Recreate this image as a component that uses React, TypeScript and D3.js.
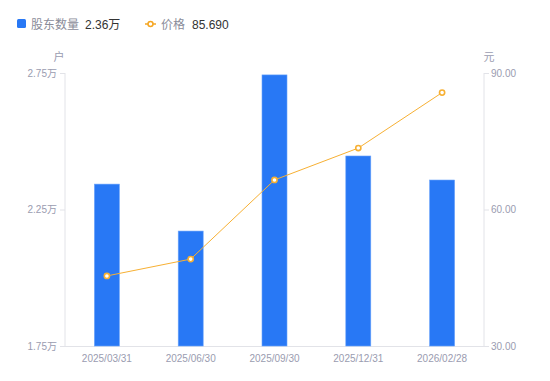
import React from "react";
import * as d3 from "d3";

const categories = ["2025/03/31", "2025/06/30", "2025/09/30", "2025/12/31", "2026/02/28"];
const holders = [2.343, 2.171, 2.743, 2.446, 2.358];
const prices = [45.4, 49.1, 66.5, 73.5, 85.69];
const leftTicks = [1.75, 2.25, 2.75];
const rightTicks = [30, 60, 90];

export default function App() {
  const W = 550, H = 381;
  const left = 65, right = 484, top = 73, bottom = 346;
  const x = d3.scaleBand().domain(categories).range([left, right]);
  const yL = d3.scaleLinear().domain([1.75, 2.75]).range([bottom, top]);
  const yR = d3.scaleLinear().domain([30, 90]).range([bottom, top]);
  const barW = 25;
  const line = d3.line<number>().x((_, i) => x(categories[i])! + x.bandwidth() / 2).y((d) => yR(d));
  const tickColor = "#9a9cb0";
  const axisColor = "#e2e3e8";
  const font = "'Liberation Sans', 'Noto Sans CJK SC', sans-serif";
  return (
    <svg width={W} height={H} style={{ position: "absolute", left: 0, top: 0, fontFamily: font }}>
      {/* legend */}
      <rect x={17} y={19} width={9} height={9} rx={1.5} fill="#2878f5" />
      <text x={31} y={28.5} fontSize={12} fill="#8a8c99">股东数量</text>
      <text x={85} y={28.5} fontSize={12} fill="#333">2.36万</text>
      <line x1={145} x2={156} y1={24} y2={24} stroke="#f5a623" strokeWidth={1.5} />
      <circle cx={150.5} cy={24} r={2.5} fill="#fff" stroke="#f5a623" strokeWidth={1.5} />
      <text x={161} y={28.5} fontSize={12} fill="#8a8c99">价格</text>
      <text x={192} y={28.5} fontSize={12} fill="#333">85.690</text>
      {/* units */}
      <text x={59} y={61} fontSize={11} fill={tickColor} textAnchor="middle">户</text>
      <text x={489} y={61} fontSize={11} fill={tickColor} textAnchor="middle">元</text>
      {/* axes */}
      <line x1={left} x2={left} y1={top} y2={bottom} stroke={axisColor} />
      <line x1={right} x2={right} y1={top} y2={bottom} stroke={axisColor} />
      <line x1={left} x2={right} y1={bottom + 0.5} y2={bottom + 0.5} stroke={axisColor} />
      {leftTicks.map((t) => (
        <g key={t}>
          <line x1={left - 5} x2={left} y1={yL(t) + 0.5} y2={yL(t) + 0.5} stroke={axisColor} />
          <text x={57} y={yL(t) + 3.5} fontSize={10} fill={tickColor} textAnchor="end">{t.toFixed(2)}万</text>
        </g>
      ))}
      {rightTicks.map((t) => (
        <g key={t}>
          <line x1={right} x2={right + 5} y1={yR(t) + 0.5} y2={yR(t) + 0.5} stroke={axisColor} />
          <text x={491} y={yR(t) + 3.5} fontSize={10} fill={tickColor}>{t.toFixed(2)}</text>
        </g>
      ))}
      {categories.map((c) => (
        <text key={c} x={x(c)! + x.bandwidth() / 2} y={362} fontSize={10} fill={tickColor} textAnchor="middle">{c}</text>
      ))}
      {/* bars */}
      {holders.map((v, i) => (
        <rect key={i} x={x(categories[i])! + x.bandwidth() / 2 - barW / 2} y={yL(v)} width={barW} height={bottom - yL(v)}
          fill="#2878f5" stroke="#6aa3fb" strokeWidth={0.6} />
      ))}
      {/* line */}
      <path d={line(prices) || ""} fill="none" stroke="#f7b033" strokeWidth={1} />
      {prices.map((p, i) => (
        <circle key={i} cx={x(categories[i])! + x.bandwidth() / 2} cy={yR(p)} r={2.6} fill="#fff" stroke="#f7b033" strokeWidth={1.6} />
      ))}
    </svg>
  );
}
